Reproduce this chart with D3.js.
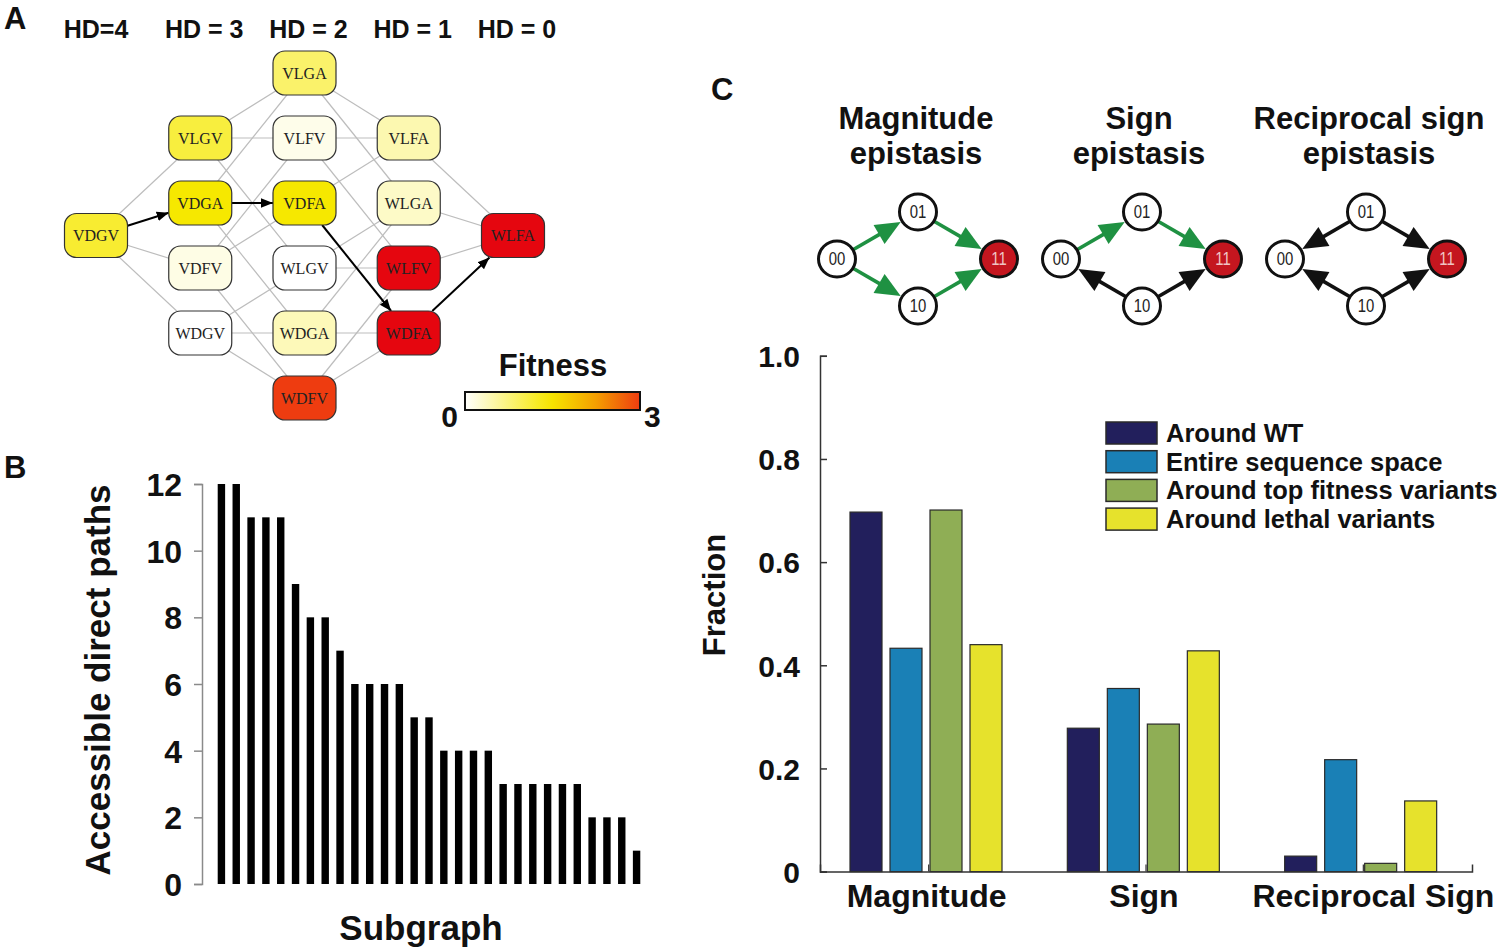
<!DOCTYPE html>
<html>
<head>
<meta charset="utf-8">
<script src="https://cdn.jsdelivr.net/npm/d3@7"></script>
<style>
  body { margin: 0; background: #fff; }
  svg { display: block; font-family: "Liberation Sans", Arial, sans-serif; }
  .bold { font-weight: bold; fill: #111; }
</style>
</head>
<body>
<svg id="fig" width="1500" height="948"></svg>
<script>
// ---- panel A data ----
var hdLevels = [4, 3, 2, 1, 0];
var hdLabels = ["HD=4", "HD = 3", "HD = 2", "HD = 1", "HD = 0"];
var columnOrder = [
  ["VDGV"],
  ["VLGV", "VDGA", "VDFV", "WDGV"],
  ["VLGA", "VLFV", "VDFA", "WLGV", "WDGA", "WDFV"],
  ["VLFA", "WLGA", "WLFV", "WDFA"],
  ["WLFA"]
];
var genotypes = ["VDGV", "VLGV", "VDGA", "VDFV", "WDGV", "VLGA", "VLFV", "VDFA",
                 "WLGV", "WDGA", "WDFV", "VLFA", "WLGA", "WLFV", "WDFA", "WLFA"];
var fitness =   [1.17, 1.1, 1.45, 0.15, 0.0, 0.85, 0.12, 1.45,
                 0.0, 0.4, 3.0, 0.45, 0.32, 3.4, 3.4, 3.4];
var bestPath = ["VDGV", "VDGA", "VDFA", "WDFA", "WLFA"];

// ---- panel B data ----
var pathCounts = [12, 12, 11, 11, 11, 9, 8, 8, 7, 6, 6, 6, 6, 5, 5, 4, 4, 4, 4,
                  3, 3, 3, 3, 3, 3, 2, 2, 2, 1];
var pathTicks = [0, 2, 4, 6, 8, 10, 12];

// ---- panel C data ----
var motifTitles = [["Magnitude", "epistasis"], ["Sign", "epistasis"], ["Reciprocal sign", "epistasis"]];
var motifEdges = [
  [["00", "01", "g"], ["00", "10", "g"], ["01", "11", "g"], ["10", "11", "g"]],
  [["00", "01", "g"], ["01", "11", "g"], ["10", "00", "k"], ["10", "11", "k"]],
  [["01", "00", "k"], ["01", "11", "k"], ["10", "00", "k"], ["10", "11", "k"]]
];
var epiCategories = ["Magnitude", "Sign", "Reciprocal Sign"];
var seriesNames = ["Around WT", "Entire sequence space", "Around top fitness variants", "Around lethal variants"];
var aroundWT = [0.697, 0.278, 0.030];
var entireSpace = [0.433, 0.355, 0.217];
var aroundTop = [0.701, 0.286, 0.016];
var aroundLethal = [0.440, 0.428, 0.137];
var fractionTicks = [0, 0.2, 0.4, 0.6, 0.8, 1.0];

var svg = d3.select("#fig");

// panel letters
svg.append("text").attr("class", "bold").attr("x", 4).attr("y", 29).attr("font-size", 31).text("A");
svg.append("text").attr("class", "bold").attr("x", 4).attr("y", 478).attr("font-size", 31).text("B");
svg.append("text").attr("class", "bold").attr("x", 711).attr("y", 100).attr("font-size", 31).text("C");

// ================= Panel A =================
var fitColor = d3.scaleLinear()
  .domain([0, 1.45, 2.2, 3.0, 3.4])
  .range(["#ffffff", "#f6e800", "#f5a400", "#ee3c10", "#e5060f"])
  .clamp(true);

var colX = d3.scalePoint().domain(hdLevels).range([96, 513]);
var rowStep = 65, midY = 235.5, boxW = 63, boxH = 44;

var fitBy = {};
genotypes.forEach(function(g, i) { fitBy[g] = fitness[i]; });

var nodes = [];
columnOrder.forEach(function(col, c) {
  col.forEach(function(name, i) {
    nodes.push({name: name, hd: hdLevels[c],
      x: colX(hdLevels[c]), y: midY + (i - (col.length - 1) / 2) * rowStep,
      f: fitBy[name]});
  });
});
var nodeBy = {};
nodes.forEach(function(n) { nodeBy[n.name] = n; });

function ham(a, b) {
  var d = 0;
  for (var i = 0; i < a.length; i++) if (a[i] !== b[i]) d++;
  return d;
}
var pathPairs = {};
for (var p = 0; p < bestPath.length - 1; p++) {
  pathPairs[bestPath[p] + bestPath[p + 1]] = true;
  pathPairs[bestPath[p + 1] + bestPath[p]] = true;
}
var edges = [];
nodes.forEach(function(a, i) {
  nodes.forEach(function(b, j) {
    if (j > i && ham(a.name, b.name) === 1 && !pathPairs[a.name + b.name]) edges.push([a, b]);
  });
});

var gA = svg.append("g");
gA.selectAll("text.hd").data(hdLevels).enter().append("text")
  .attr("class", "bold hd")
  .attr("x", function(d, i) { return colX(d) + (i === 0 ? 0 : 4); })
  .attr("y", 38)
  .attr("text-anchor", "middle")
  .attr("font-size", 25)
  .text(function(d, i) { return hdLabels[i]; });

gA.append("g").selectAll("line").data(edges).enter().append("line")
  .attr("x1", function(d) { return d[0].x; })
  .attr("y1", function(d) { return d[0].y; })
  .attr("x2", function(d) { return d[1].x; })
  .attr("y2", function(d) { return d[1].y; })
  .attr("stroke", "#bdbdbd")
  .attr("stroke-width", 1.2);

svg.append("defs").append("marker")
  .attr("id", "arrA")
  .attr("viewBox", "0 -5 10 10")
  .attr("refX", 10).attr("refY", 0)
  .attr("markerWidth", 6).attr("markerHeight", 6)
  .attr("markerUnits", "strokeWidth")
  .attr("orient", "auto")
  .append("path").attr("d", "M0,-4L10,0L0,4Z").attr("fill", "#000");

function boxEdge(from, to) {
  // point where segment from->to leaves the box around "to"
  var dx = to.x - from.x, dy = to.y - from.y;
  var t = Math.min((boxW / 2) / Math.abs(dx || 1e-9), (boxH / 2) / Math.abs(dy || 1e-9));
  return [to.x - dx * t, to.y - dy * t];
}
var pathLinks = [];
for (var q = 0; q < bestPath.length - 1; q++) pathLinks.push([nodeBy[bestPath[q]], nodeBy[bestPath[q + 1]]]);
gA.append("g").selectAll("line").data(pathLinks).enter().append("line")
  .attr("x1", function(d) { return boxEdge(d[1], d[0])[0]; })
  .attr("y1", function(d) { return boxEdge(d[1], d[0])[1]; })
  .attr("x2", function(d) { return boxEdge(d[0], d[1])[0]; })
  .attr("y2", function(d) { return boxEdge(d[0], d[1])[1]; })
  .attr("stroke", "#000")
  .attr("stroke-width", 2)
  .attr("marker-end", "url(#arrA)");

var nodeG = gA.append("g").selectAll("g").data(nodes).enter().append("g")
  .attr("transform", function(d) { return "translate(" + d.x + "," + d.y + ")"; });
nodeG.append("rect")
  .attr("x", -boxW / 2).attr("y", -boxH / 2)
  .attr("width", boxW).attr("height", boxH)
  .attr("rx", 12).attr("ry", 12)
  .attr("fill", function(d) { return fitColor(d.f); })
  .attr("stroke", "#333").attr("stroke-width", 1.2);
nodeG.append("text")
  .attr("text-anchor", "middle").attr("dy", 5.5)
  .attr("font-family", "'Liberation Serif', 'Times New Roman', serif")
  .attr("font-size", 16)
  .attr("fill", "#222")
  .text(function(d) { return d.name; });

// colour bar
var cbX = d3.scaleLinear().domain([0, 3]).range([465, 640]);
var grad = svg.select("defs").append("linearGradient").attr("id", "fitGrad");
d3.range(0, 3.01, 0.25).forEach(function(v) {
  grad.append("stop").attr("offset", (v / 3 * 100) + "%").attr("stop-color", fitColor(v));
});
svg.append("text").attr("class", "bold").attr("x", 553).attr("y", 376)
  .attr("text-anchor", "middle").attr("font-size", 31).text("Fitness");
svg.append("rect").attr("x", cbX(0)).attr("y", 392)
  .attr("width", cbX(3) - cbX(0)).attr("height", 18)
  .attr("fill", "url(#fitGrad)").attr("stroke", "#111").attr("stroke-width", 2);
svg.append("text").attr("class", "bold").attr("x", cbX(0) - 7).attr("y", 427)
  .attr("text-anchor", "end").attr("font-size", 30).text("0");
svg.append("text").attr("class", "bold").attr("x", cbX(3) + 4).attr("y", 427)
  .attr("font-size", 30).text("3");

// ================= Panel B =================
var bx = d3.scaleBand().domain(d3.range(pathCounts.length))
  .range([214, 644]).paddingInner(0.5).paddingOuter(0.25);
var by = d3.scaleLinear().domain([0, 12]).range([884, 484]);

var gB = svg.append("g");
gB.selectAll("rect").data(pathCounts).enter().append("rect")
  .attr("x", function(d, i) { return bx(i); })
  .attr("y", function(d) { return by(d); })
  .attr("width", bx.bandwidth())
  .attr("height", function(d) { return by(0) - by(d); })
  .attr("fill", "#000");

var axB = gB.append("g").attr("transform", "translate(202,0)")
  .call(d3.axisLeft(by).tickValues(pathTicks).tickSize(8).tickPadding(12));
axB.select(".domain").attr("stroke", "#8a8a8a").attr("stroke-width", 1.5);
axB.selectAll(".tick line").attr("stroke", "#8a8a8a").attr("stroke-width", 1.5);
axB.selectAll(".tick text").attr("class", "bold").attr("font-size", 32)
  .attr("font-family", "'Liberation Sans', Arial, sans-serif").attr("dy", "0.36em");

gB.append("text").attr("class", "bold")
  .attr("transform", "translate(110,680) rotate(-90)")
  .attr("text-anchor", "middle").attr("font-size", 35)
  .text("Accessible direct paths");
gB.append("text").attr("class", "bold")
  .attr("x", 421).attr("y", 940)
  .attr("text-anchor", "middle").attr("font-size", 35)
  .text("Subgraph");

// ================= Panel C: motifs =================
var motifX = d3.scalePoint().domain(d3.range(motifTitles.length)).range([918, 1366]);
var motifY = 259;
var offs = {"00": [-81, 0], "01": [0, -47], "10": [0, 47], "11": [81, 0]};
var nodeR = 18.5;
var edgeColor = {g: "#1f9142", k: "#111"};

var gM = svg.append("g");
motifTitles.forEach(function(lines, m) {
  var cx = motifX(m);
  var cxT = cx - (m === 0 ? 2 : m === 1 ? 3 : -3);
  lines.forEach(function(t, li) {
    gM.append("text").attr("class", "bold")
      .attr("x", cxT).attr("y", 129 + li * 35)
      .attr("text-anchor", "middle").attr("font-size", 31)
      .text(t);
  });
  motifEdges[m].forEach(function(e) {
    var s = offs[e[0]], t = offs[e[1]];
    var sx = cx + s[0], sy = motifY + s[1], tx = cx + t[0], ty = motifY + t[1];
    var L = Math.hypot(tx - sx, ty - sy), ux = (tx - sx) / L, uy = (ty - sy) / L;
    var px = -uy, py = ux;
    var tipX = tx - ux * (nodeR + 1.5), tipY = ty - uy * (nodeR + 1.5);
    var head = 25, hw = 11;
    var baseX = tipX - ux * head, baseY = tipY - uy * head;
    var col = edgeColor[e[2]];
    gM.append("line")
      .attr("x1", sx + ux * nodeR).attr("y1", sy + uy * nodeR)
      .attr("x2", baseX + ux * 2).attr("y2", baseY + uy * 2)
      .attr("stroke", col).attr("stroke-width", 3.6);
    gM.append("path")
      .attr("d", "M" + tipX + "," + tipY + "L" + (baseX + px * hw) + "," + (baseY + py * hw) +
        "L" + (baseX - px * hw) + "," + (baseY - py * hw) + "Z")
      .attr("fill", col);
  });
  Object.keys(offs).forEach(function(k) {
    var g = gM.append("g").attr("transform", "translate(" + (cx + offs[k][0]) + "," + (motifY + offs[k][1]) + ")");
    g.append("ellipse").attr("rx", nodeR).attr("ry", nodeR - 0.5)
      .attr("fill", k === "11" ? "#c4161f" : "#fff")
      .attr("stroke", "#111").attr("stroke-width", 3);
    g.append("text").attr("text-anchor", "middle").attr("dy", 6)
      .attr("font-size", 17.5).attr("fill", k === "11" ? "#f0c4c4" : "#222")
      .attr("transform", "scale(0.85,1)")
      .text(k);
  });
});

// ================= Panel C: bars =================
var series = [aroundWT, entireSpace, aroundTop, aroundLethal];
var seriesColors = ["#221f5c", "#1a80b6", "#8fae55", "#e6e22c"];
var cx0 = d3.scaleBand().domain(epiCategories).range([820, 1472]);
var cx1 = d3.scaleBand().domain(d3.range(series.length)).range([26, 186])
  .paddingInner(0.2).paddingOuter(0.1);
var cy = d3.scaleLinear().domain([0, 1]).range([871.6, 355.8]);

var gC = svg.append("g");
var grp = gC.selectAll("g.grp").data(epiCategories).enter().append("g")
  .attr("transform", function(d) { return "translate(" + cx0(d) + ",0)"; });
grp.selectAll("rect").data(function(d, ci) {
  return series.map(function(s, si) { return {si: si, v: s[ci]}; });
}).enter().append("rect")
  .attr("x", function(d) { return cx1(d.si); })
  .attr("y", function(d) { return cy(d.v); })
  .attr("width", cx1.bandwidth())
  .attr("height", function(d) { return cy(0) - cy(d.v); })
  .attr("fill", function(d) { return seriesColors[d.si]; })
  .attr("stroke", "#2a2a2a").attr("stroke-width", 1.2);

var axCy = gC.append("g").attr("transform", "translate(820,0)")
  .call(d3.axisRight(cy).tickValues(fractionTicks).tickSize(7)
    .tickFormat(function(d) { return d === 0 ? "0" : d3.format(".1f")(d); }));
axCy.select(".domain").attr("stroke", "#333").attr("stroke-width", 1.5);
axCy.selectAll(".tick line").attr("stroke", "#333").attr("stroke-width", 1.5);
axCy.selectAll(".tick text").attr("class", "bold").attr("font-size", 30)
  .attr("font-family", "'Liberation Sans', Arial, sans-serif")
  .attr("x", -20).attr("text-anchor", "end").attr("dy", "0.36em");

var axCx = gC.append("g").attr("transform", "translate(0,871.6)")
  .call(d3.axisTop(cx0).tickSize(7).tickFormat(""));
axCx.select(".domain").attr("stroke", "#333").attr("stroke-width", 1.5);
axCx.selectAll(".tick line").attr("stroke", "#333").attr("stroke-width", 1.2);
gC.selectAll("text.cat").data(epiCategories).enter().append("text")
  .attr("class", "bold cat")
  .attr("x", function(d, i) { return cx0(d) + cx0.bandwidth() / 2 + (i === 2 ? 10 : -2); })
  .attr("y", 907)
  .attr("text-anchor", "middle").attr("font-size", 32)
  .text(function(d) { return d; });

gC.append("text").attr("class", "bold")
  .attr("transform", "translate(725,595) rotate(-90)")
  .attr("text-anchor", "middle").attr("font-size", 31)
  .text("Fraction");

// legend
var leg = gC.append("g").attr("transform", "translate(1106,422)");
var legRow = leg.selectAll("g").data(seriesNames).enter().append("g")
  .attr("transform", function(d, i) { return "translate(0," + (i * 28.7) + ")"; });
legRow.append("rect").attr("width", 51).attr("height", 22)
  .attr("fill", function(d, i) { return seriesColors[i]; })
  .attr("stroke", "#2a2a2a").attr("stroke-width", 1.5);
legRow.append("text").attr("class", "bold")
  .attr("x", 60).attr("y", 20).attr("font-size", 25.5)
  .text(function(d) { return d; });
</script>
</body>
</html>
